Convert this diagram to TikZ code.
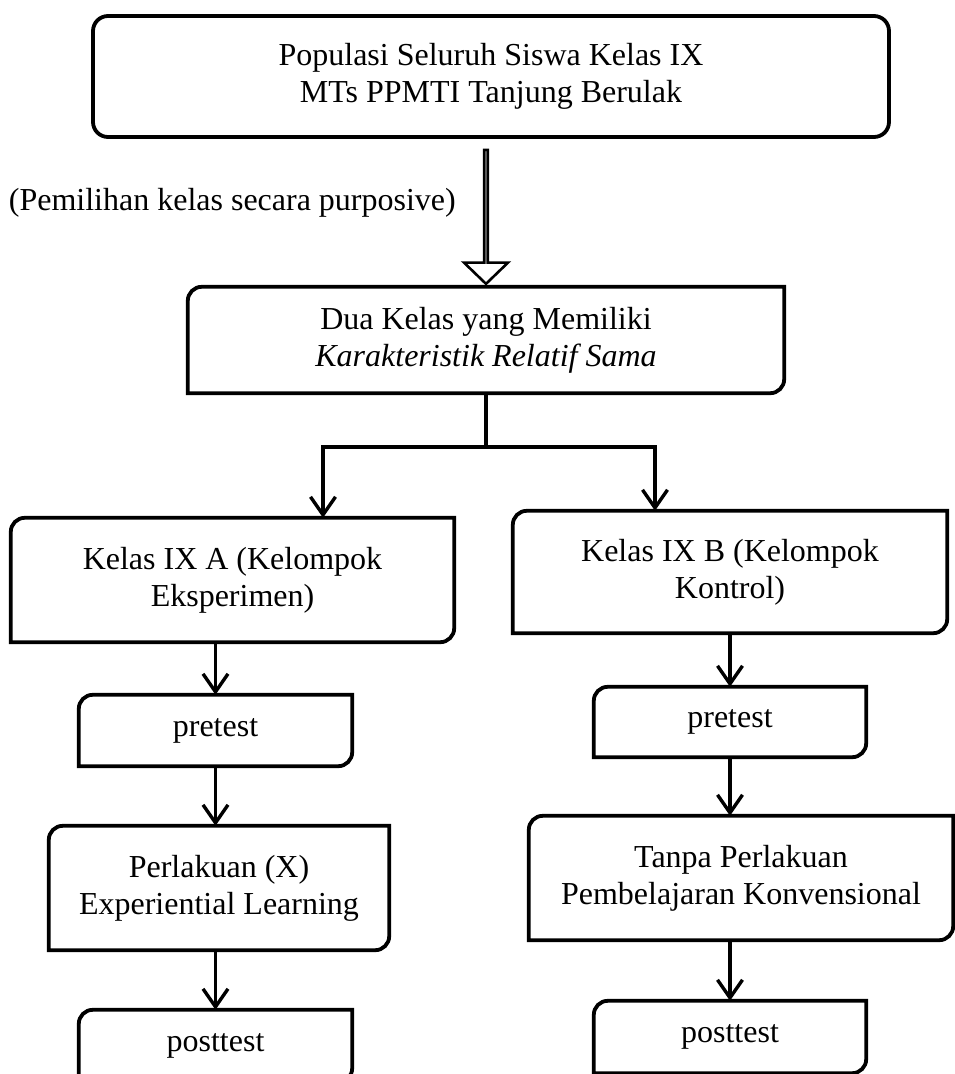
\documentclass[tikz,border=0pt]{standalone}
\usepackage{fontspec}
\setmainfont{Liberation Serif}
\usepackage{tikz}
\usetikzlibrary{positioning,arrows.meta,shapes.arrows}

\begin{document}
\begin{tikzpicture}[x=1pt,y=-1pt,
  font=\fontsize{32}{37}\selectfont,
  garis/.style={line width=3.8pt},
  panah/.style={line width=3.4pt,-{Straight Barb[length=18pt,width=25pt]}},
  kotak/.style={inner sep=0pt,align=center}]
\useasboundingbox (0,0) rectangle (955,1074);

\node[kotak,garis,draw,rounded corners=15pt,minimum width=796pt,minimum height=121pt] (populasi) at (491,76.5) {Populasi Seluruh Siswa Kelas IX\\MTs PPMTI Tanjung Berulak};
\node[single arrow,draw,line width=2.6pt,fill=white,shape border rotate=270,inner sep=0pt,
  minimum width=44pt,single arrow head extend=15pt,single arrow tip angle=92,minimum height=134pt] (pilih) at (486,216) {};
\node[anchor=east,inner sep=0pt] (ket) at (456,203) {(Pemilihan kelas secara purposive)};

\node[kotak,minimum width=596pt,minimum height=106pt] (dua) at (486,340) {Dua Kelas yang Memiliki\\\textit{Karakteristik Relatif Sama}};
\node[kotak,minimum width=443pt,minimum height=124pt] (kelasA) at (232.5,580) {Kelas IX A (Kelompok\\Eksperimen)};
\node[kotak,minimum width=434pt,minimum height=122pt] (kelasB) at (730,572) {Kelas IX B (Kelompok\\Kontrol)};
\node[kotak,minimum width=273pt,minimum height=71pt] (preA) at (215.5,730.5) {pretest};
\node[kotak,minimum width=272pt,minimum height=70pt] (preB) at (730,722) {pretest};
\node[kotak,minimum width=340pt,minimum height=124pt] (perA) at (219,888) {Perlakuan (X)\\Experiential Learning};
\node[kotak,minimum width=424pt,minimum height=124pt] (perB) at (741,878) {Tanpa Perlakuan\\Pembelajaran Konvensional};
\node[kotak,minimum width=273pt,minimum height=72pt] (postA) at (215.5,1046) {posttest};
\node[kotak,minimum width=272pt,minimum height=72pt] (postB) at (730,1037) {posttest};

% sudut kiri atas dan kanan bawah membulat
\foreach \n in {dua,kelasA,kelasB,preA,preB,perA,perB,postA,postB}
  \draw[garis] ([yshift=-14pt]\n.north west) arc[start angle=180,end angle=90,radius=14pt]
    -- (\n.north east) -- ([yshift=14pt]\n.south east) arc[start angle=0,end angle=-90,radius=14pt]
    -- (\n.south west) -- cycle;

\coordinate (cabang) at (486,447);
\coordinate (kiri) at (323,447);
\coordinate (kanan) at (655,447);
\draw[garis] (dua.south) -- (cabang);
\draw[panah] (cabang) -- (kiri) -- (kiri |- kelasA.north);
\draw[panah] (cabang) -- (kanan) -- (kanan |- kelasB.north);

\draw[panah] (preA.north |- kelasA.south) -- (preA.north);
\draw[panah] (preA.south) -- (preA.south |- perA.north);
\draw[panah] (postA.north |- perA.south) -- (postA.north);
\draw[panah] (preB.north |- kelasB.south) -- (preB.north);
\draw[panah] (preB.south) -- (preB.south |- perB.north);
\draw[panah] (postB.north |- perB.south) -- (postB.north);
\end{tikzpicture}
\end{document}
